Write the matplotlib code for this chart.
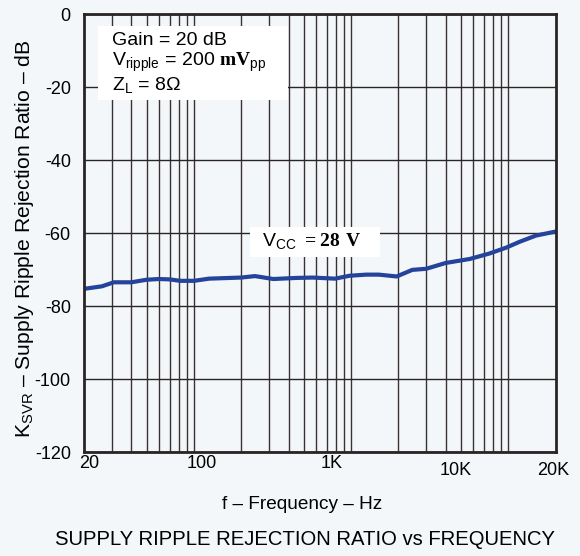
import matplotlib
matplotlib.use("Agg")
import matplotlib.pyplot as plt
from matplotlib.patches import Rectangle
from matplotlib.ticker import FixedLocator, NullFormatter

# curve
freq = [20, 26, 31, 40, 50, 60, 70, 82, 100, 125, 200, 245, 320, 450, 570,
        790, 980, 1250, 1500, 1950, 2450, 3000, 4000, 5700, 7600, 9700,
        11800, 15000, 20000]
ksvr = [-75.3, -74.6, -73.5, -73.5, -72.8, -72.6, -72.7, -73.1, -73.1, -72.5,
        -72.2, -71.8, -72.6, -72.3, -72.2, -72.5, -71.7, -71.4, -71.4, -71.9,
        -70.1, -69.8, -68.2, -67.1, -65.6, -64.0, -62.4, -60.7, -59.6]

# grid lines of the log paper
grid_freq = [30, 40, 50, 60, 70, 80, 90, 100,
             200, 300, 400, 500, 600, 700, 800, 900, 1000,
             2000, 3000, 4000, 5000, 6000, 7000, 8000, 9000, 10000]
# tick labels sit a bit off the grid in the original
xlab_pos = [21.5, 112, 750, 4650, 19300]
xlab_txt = ["20", "100", "1K", "10K", "20K"]
xlab_pad = [2, 2, 2, 7, 7]
yticks = [0, -20, -40, -60, -80, -100, -120]

bg = "#f3f7f9"
plt.rcParams["font.family"] = ["Liberation Sans", "DejaVu Sans"]
plt.rcParams["axes.unicode_minus"] = False
plt.rcParams["mathtext.fontset"] = "custom"
plt.rcParams["mathtext.rm"] = "Liberation Sans"
plt.rcParams["mathtext.bf"] = "Liberation Serif:bold"

fig = plt.figure(figsize=(5.8, 5.56), dpi=100, facecolor=bg)
ax = fig.add_axes([0.1448, 0.187, 0.958 - 0.1448, 0.9748 - 0.187])
ax.set_facecolor(bg)

ax.set_xscale("log")
ax.set_xlim(20, 20000)
ax.set_ylim(-120, 0)

ax.xaxis.set_minor_locator(FixedLocator(grid_freq))
ax.xaxis.set_minor_formatter(NullFormatter())
ax.set_xticks(xlab_pos)
ax.set_xticklabels(xlab_txt)
ax.tick_params(axis="x", which="both", length=0, labelsize=13)
for t, p in zip(ax.xaxis.get_major_ticks(), xlab_pad):
    t.set_pad(p)
ax.grid(which="minor", axis="x", color="#3a3232", lw=1)

ax.set_yticks(yticks)
ax.set_yticklabels([str(v) for v in yticks])
ax.tick_params(axis="y", length=0, labelsize=13, pad=9.5)
ax.grid(which="major", axis="y", color="#2a2424", lw=1)

for s in ax.spines.values():
    s.set_linewidth(2)
    s.set_color("#2a2424")

ax.plot(freq, ksvr, color="#24439b", lw=3)

# white label boxes
ax.add_patch(Rectangle((0.0297, 0.8037), 0.4028, 0.1689, transform=ax.transAxes,
                       fc="white", ec="none", zorder=2.5))
ax.add_patch(Rectangle((0.352, 0.4452), 0.2757, 0.0685, transform=ax.transAxes,
                       fc="white", ec="none", zorder=2.5))

ax.text(0.0594, 0.96, "Gain = 20 dB\n"
        "V$_{\\mathrm{ripple}}$ = 200 $\\mathbf{mV}_{\\mathrm{pp}}$\n"
        "Z$_{\\mathrm{L}}$ = 8\u03a9",
        transform=ax.transAxes, ha="left", va="top", fontsize=14,
        linespacing=1.12, zorder=3)
ax.text(0.3767, 0.479, "V$_{\\mathrm{CC}}$ $\\mathbf{= 28\\ V}$",
        transform=ax.transAxes, ha="left", va="center", fontsize=14, zorder=3)

ax.set_ylabel("K$_{\\mathrm{SVR}}$ \u2013 Supply Ripple Rejection Ratio \u2013 dB",
              fontsize=15.2, va="center")
ax.yaxis.set_label_coords(-0.127, 0.487)
fig.text(0.521, 0.092, "f \u2013 Frequency \u2013 Hz", ha="center", va="center",
         fontsize=13.7)
fig.text(0.526, 0.029, "SUPPLY RIPPLE REJECTION RATIO vs FREQUENCY",
         ha="center", va="center", fontsize=14.6)

fig.savefig("out.png", dpi=100, facecolor=bg)
